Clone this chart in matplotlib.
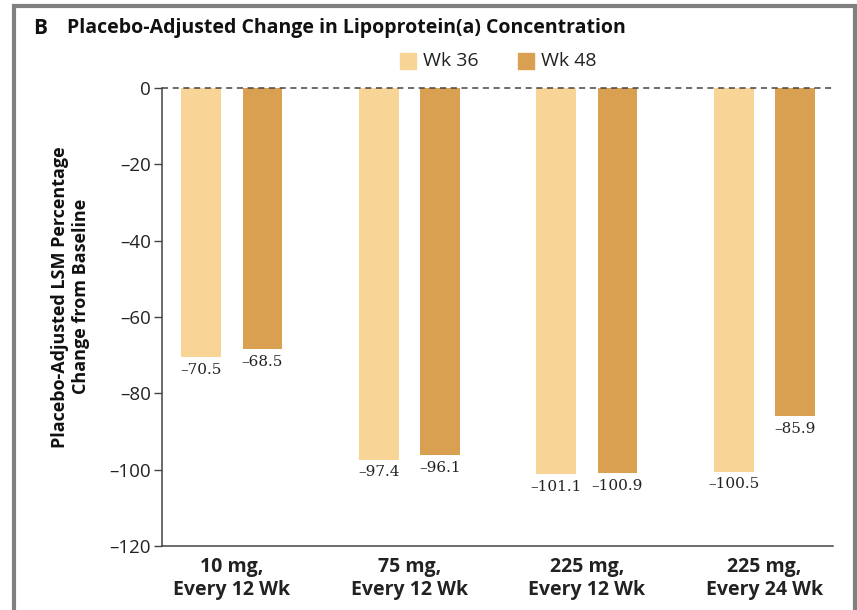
import numpy as np
import matplotlib.pyplot as plt
from matplotlib.patches import Rectangle
from matplotlib import font_manager

# dose groups and placebo-adjusted LSM % change at each week
groups = ['10 mg,\nEvery 12 Wk', '75 mg,\nEvery 12 Wk', '225 mg,\nEvery 12 Wk', '225 mg,\nEvery 24 Wk']
wk36 = [-70.5, -97.4, -101.1, -100.5]
wk48 = [-68.5, -96.1, -100.9, -85.9]
yticks = [0, -20, -40, -60, -80, -100, -120]

light = '#F8D597'
dark = '#D9A052'

names = {f.name for f in font_manager.fontManager.ttflist}
sans = 'Liberation Sans Narrow' if 'Liberation Sans Narrow' in names else 'Open Sans'
plt.rcParams['font.family'] = [sans, 'DejaVu Sans']

fig = plt.figure(figsize=(8.57, 6.10), dpi=100)

# panel frame (open at the bottom)
fig.patches.append(Rectangle((14 / 857, -0.05), (855 - 14) / 857, 1.05 - 6 / 610,
                             transform=fig.transFigure, fill=False,
                             edgecolor='#808080', linewidth=3))

ax = fig.add_axes([162 / 857, 1 - 546 / 610, (833 - 162) / 857, (546 - 88) / 610])

x = np.arange(len(groups))
w = 0.225
off = 0.172
b1 = ax.bar(x - off, wk36, w, color=light)
b2 = ax.bar(x + off, wk48, w, color=dark)

for bars, vals in ((b1, wk36), (b2, wk48)):
    for r, v in zip(bars, vals):
        ax.text(r.get_x() + r.get_width() / 2, v - 1.5, f'\u2013{abs(v):.1f}',
                ha='center', va='top', fontsize=11, family='DejaVu Serif', color='#222222')

ax.axhline(0, color='#444444', linestyle=(0, (4, 3)), linewidth=1.1, clip_on=False)

ax.set_xlim(-0.394, 3.386)
ax.set_ylim(-120, 0)
ax.set_yticks(yticks)
ax.set_yticklabels(['0'] + [f'\u2013{abs(t)}' for t in yticks[1:]], fontsize=13.5, color='#222222')
ax.set_xticks(x)
ax.set_xticklabels(groups, fontsize=14, fontweight='bold', color='#222222')
ax.tick_params(axis='x', length=0, pad=8)
ax.tick_params(axis='y', length=6, width=1, color='#444444', pad=2)
for s in ('top', 'right'):
    ax.spines[s].set_visible(False)
for s in ('left', 'bottom'):
    ax.spines[s].set_color('#444444')
    ax.spines[s].set_linewidth(1.1)

ax.set_ylabel('Placebo-Adjusted LSM Percentage\nChange from Baseline', fontsize=13,
              fontweight='bold', linespacing=1.2, color='#111111')
ax.yaxis.set_label_coords(-0.108, 0.544)

fig.text(33 / 857, 1 - 28 / 610, 'B', fontsize=15, fontweight='bold', va='center', color='#111111')
fig.text(67 / 857, 1 - 28 / 610, 'Placebo-Adjusted Change in Lipoprotein(a) Concentration',
         fontsize=14, fontweight='bold', va='center', color='#111111')

# legend boxes
for px, col, lab in ((400, light, 'Wk 36'), (518, dark, 'Wk 48')):
    fig.patches.append(Rectangle((px / 857, 1 - 69 / 610), 16 / 857, 16 / 610,
                                 transform=fig.transFigure, color=col))
    fig.text((px + 23) / 857, 1 - 61 / 610, lab, fontsize=14, va='center', color='#222222')

fig.savefig('out.png', dpi=100)
